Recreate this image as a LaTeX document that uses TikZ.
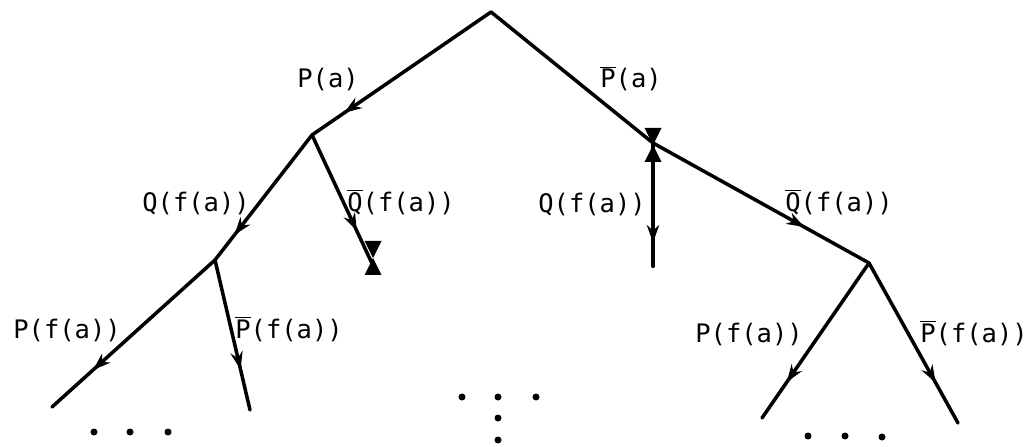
\documentclass[tikz,border=0pt]{standalone}
\usepackage{fontspec}
\setmonofont{DejaVu Sans Mono}
\usetikzlibrary{arrows.meta,decorations.markings}
\tikzset{
  branch/.style={ink,line width=2pt,line cap=round},
  arrowat/.style={postaction={decorate,decoration={markings,
      mark=at position #1 with {\arrow{Stealth[length=10pt,width=7pt]}}}}},
  lbl/.style={anchor=base west,inner sep=0pt,text=ink},
  closedmark/.pic={
    \fill[ink] (-0.17,0.34)--(0.17,0.34)--(0,0)--cycle;
    \fill[ink] (-0.17,-0.34)--(0.17,-0.34)--(0,0)--cycle;}
}
\newcommand{\negd}[1]{$\overline{\mbox{#1}}$}
\begin{document}
\begin{tikzpicture}[x=1cm,y=1cm,font=\ttfamily\fontsize{14.5}{16}\selectfont]
  \definecolor{ink}{HTML}{000000}
  \path[use as bounding box] (0,0) rectangle (20.68,8.92);
  \coordinate (R) at (9.82,8.68);
  \coordinate (A) at (6.24,6.22);
  \coordinate (B) at (13.06,6.06);
  \coordinate (C) at (4.30,3.72);
  \coordinate (D) at (7.52,3.48);
  \coordinate (E) at (1.04,0.78);
  \coordinate (F) at (5.00,0.72);
  \coordinate (G) at (13.06,3.60);
  \coordinate (H) at (17.38,3.66);
  \coordinate (I) at (15.24,0.56);
  \coordinate (J) at (19.16,0.46);
  \draw[branch,arrowat=0.82] (R) -- (A);
  \draw[branch] (R) -- (B);
  \draw[branch,arrowat=0.8] (A) -- (C);
  \draw[branch,arrowat=0.7] (A) -- (D);
  \draw[branch,arrowat=0.75] (C) -- (E);
  \draw[branch,arrowat=0.73] (C) -- (F);
  \draw[branch,line width=2.4pt,arrowat=0.81] (B) -- (G);
  \draw[branch,arrowat=0.7] (B) -- (H);
  \draw[branch,arrowat=0.77] (H) -- (I);
  \draw[branch,arrowat=0.75] (H) -- (J);
  \pic at (13.06,6.02) {closedmark};
  \pic at (7.46,3.76) {closedmark};
  \node[lbl] (pa)    at (5.94,7.16)  {P(a)};
  \node[lbl] (npa)   at (12.00,7.16) {\negd{P}(a)};
  \node[lbl] (qfa)   at (2.84,4.68)  {Q(f(a))};
  \node[lbl] (nqfa)  at (6.94,4.68)  {\negd{Q}(f(a))};
  \node[lbl] (qfb)   at (10.76,4.66) {Q(f(a))};
  \node[lbl] (nqfb)  at (15.70,4.68) {\negd{Q}(f(a))};
  \node[lbl] (pfa)   at (0.26,2.16)  {P(f(a))};
  \node[lbl] (npfa)  at (4.70,2.16)  {\negd{P}(f(a))};
  \node[lbl] (pfb)   at (13.90,2.08) {P(f(a))};
  \node[lbl] (npfb)  at (18.40,2.08) {\negd{P}(f(a))};
  \foreach \x/\y in {1.88/0.28,2.60/0.28,3.36/0.28,
    9.24/0.98,9.96/0.98,10.72/0.98,9.96/0.56,9.96/0.12,
    16.16/0.20,16.90/0.20,17.64/0.18}{
    \fill[ink] (\x,\y) circle (0.07);
  }
\end{tikzpicture}
\end{document}
